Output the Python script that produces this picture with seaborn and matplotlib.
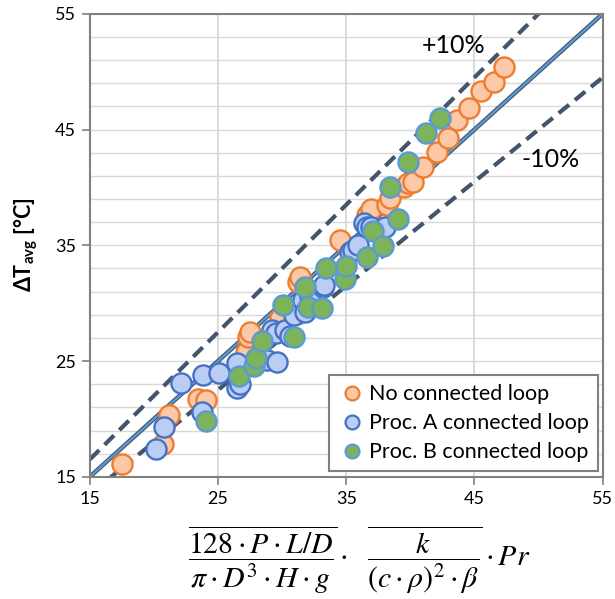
import numpy as np
import pandas as pd
import matplotlib
matplotlib.use("Agg")
import matplotlib.pyplot as plt
import seaborn as sns

# Values
no_loop_x = [17.5, 20.7, 21.2, 23.4, 24.1, 27.2, 27.3, 27.5, 29.8, 31.2, 31.4, 34.5,
             36.6, 36.9, 38.2, 38.4, 39.5, 39.8, 40.2, 41.0, 42.1, 42.9, 43.6, 44.6,
             45.5, 46.5, 47.3]
no_loop_y = [16.1, 17.8, 20.3, 21.7, 21.6, 25.8, 27.1, 27.5, 28.7, 31.8, 32.3, 35.5,
             37.6, 38.1, 38.5, 39.1, 40.0, 40.4, 40.5, 41.8, 43.1, 44.3, 45.8, 46.9,
             48.3, 49.1, 50.4]

proc_a_x = [20.2, 20.8, 22.1, 23.75, 23.8, 25.1, 26.5, 26.7, 26.5, 28.8, 29.6, 29.2,
            29.5, 30.2, 30.6, 30.9, 31.6, 31.8, 32.2, 33.2, 33.3, 35.3, 35.5, 35.9,
            36.4, 36.6, 36.9, 38.0]
proc_a_y = [17.4, 19.3, 23.1, 20.6, 23.8, 24.0, 22.7, 23.0, 24.8, 25.1, 24.9, 27.7,
            27.4, 27.7, 27.2, 29.0, 30.3, 29.2, 30.6, 31.4, 31.6, 34.4, 34.6, 35.0,
            36.9, 36.6, 36.6, 36.6]

proc_b_x = [24.1, 26.6, 27.8, 28.0, 28.4, 30.1, 30.9, 31.8, 32.0, 33.1, 33.4, 34.9,
            35.0, 36.6, 37.1, 37.9, 39.0, 38.4, 39.8, 41.2, 42.3]
proc_b_y = [19.8, 23.7, 24.6, 25.3, 26.7, 29.8, 27.1, 31.4, 29.7, 29.6, 33.0, 32.1,
            33.2, 34.0, 36.2, 34.9, 37.3, 40.05, 42.2, 44.7, 46.0]

series_names = ["No connected loop", "Proc. A connected loop", "Proc. B connected loop"]
face_colors = ["#FCC8A6", "#BCCDF4", "#7DB35A"]
edge_colors = ["#ED7D31", "#4472C4", "#5B9BD5"]

plt.rcParams["font.family"] = ["Lato", "DejaVu Sans"]
plt.rcParams["mathtext.fontset"] = "custom"
plt.rcParams["mathtext.rm"] = "Lato"
plt.rcParams["mathtext.bf"] = "Lato:bold"

fig = plt.figure(figsize=(6.15, 5.99), dpi=100)
ax = fig.add_axes([0.146, 0.204, 0.834, 0.773])

# grid
for yv in np.arange(17, 55, 2):
    ax.axhline(yv, color="#D9D9D9", lw=1, zorder=0)
for xv in [25, 35, 45]:
    ax.axvline(xv, color="#D9D9D9", lw=1.3, zorder=0)

# reference lines
line_x = np.array([15, 55])
ax.plot(line_x, 1.1 * line_x, ls=(0, (3.2, 1.8)), color="#44546A", lw=3, zorder=1)
ax.plot(line_x, 0.9 * line_x, ls=(0, (3.2, 1.8)), color="#44546A", lw=3, zorder=1)
ax.plot(line_x, line_x, color="#44546A", lw=3.2, zorder=1)
ax.plot(line_x, line_x, color="#5B9BD5", lw=1.6, zorder=1)

all_x = [no_loop_x, proc_a_x, proc_b_x]
all_y = [no_loop_y, proc_a_y, proc_b_y]
for i in range(3):
    df = pd.DataFrame({"x": all_x[i], "y": all_y[i]})
    sns.scatterplot(data=df, x="x", y="y", ax=ax, s=210, color=face_colors[i],
                    edgecolor=edge_colors[i], linewidth=1.7, label=series_names[i],
                    zorder=3 + i, legend=False)

ax.set_xlim(15, 55)
ax.set_ylim(15, 55)
ax.set_xticks([15, 25, 35, 45, 55])
ax.set_yticks([15, 25, 35, 45, 55])
ax.tick_params(axis="both", direction="out", length=6, width=1.2, color="#808080",
               labelsize=13, pad=4)
for sp in ax.spines.values():
    sp.set_color("#808080")
    sp.set_linewidth(1.5)
ax.set_xlabel("")
ax.set_ylabel(r"ΔT$_{\mathbf{avg}}$ [°C]", fontsize=15.5, fontweight="bold", labelpad=11)

ax.text(43.4, 52.3, "+10%", fontsize=18, ha="center", va="center")
ax.text(50.9, 42.4, "-10%", fontsize=18, ha="center", va="center")

handles = []
for i in range(3):
    h = plt.Line2D([], [], marker="o", ls="", markersize=10, markerfacecolor=face_colors[i],
                   markeredgecolor=edge_colors[i], markeredgewidth=1.6)
    handles.append(h)
leg = ax.legend(handles, series_names, loc="lower right", bbox_to_anchor=(0.99, 0.013),
                borderaxespad=0, fontsize=15.5, frameon=True, fancybox=False,
                handletextpad=0.15, labelspacing=0.42, borderpad=0.4, handlelength=1.3)
leg.get_frame().set_edgecolor("#808080")
leg.get_frame().set_linewidth(1.5)
leg.get_frame().set_alpha(1)
leg.set_zorder(10)

xlab = (r"$\overline{\dfrac{128\cdot P\cdot L/D}{\pi\cdot D^3\cdot H\cdot g}}\cdot"
        r"\ \ \overline{\dfrac{k}{(c\cdot\rho)^2\cdot\beta}}\cdot Pr$")
fig.text(0.584, 0.064, xlab, fontsize=21.5, ha="center", va="center", math_fontfamily="stix")

fig.savefig("out.png", dpi=100)
